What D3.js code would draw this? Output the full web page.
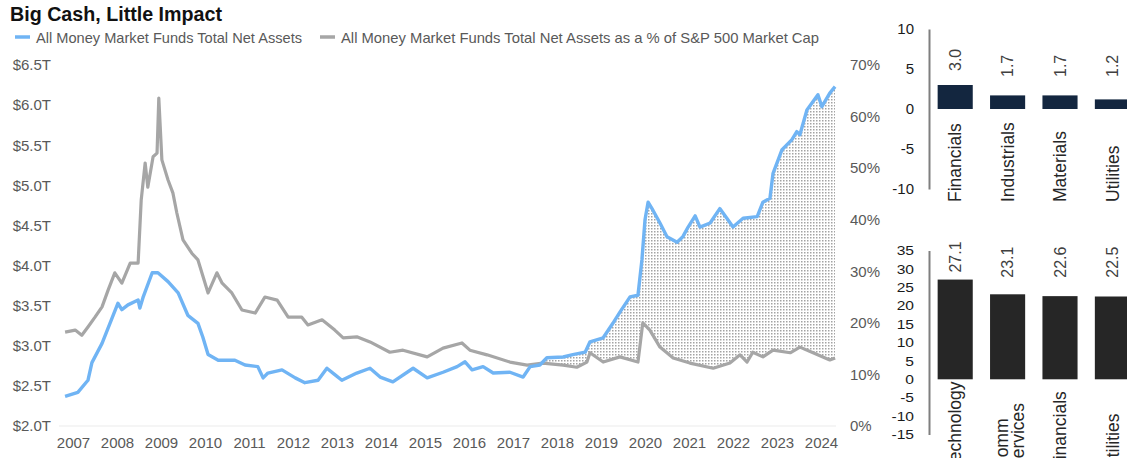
<!DOCTYPE html>
<html>
<head>
<meta charset="utf-8">
<script src="https://cdn.jsdelivr.net/npm/d3@7"></script>
<style>
body { margin: 0; background: #fff; }
svg text { font-family: "Liberation Sans", Arial, sans-serif; }
</style>
</head>
<body>
<div id="chart-area"></div>
<script>
// Serie azul: activos netos de fondos monetarios (billones $)
var blueYears = [2006.82, 2007.11, 2007.34, 2007.43, 2007.66, 2007.84, 2008.02, 2008.11, 2008.25, 2008.48,
    2008.52, 2008.59, 2008.80, 2008.93, 2009.16, 2009.39, 2009.61, 2009.84, 2009.95, 2010.07,
    2010.30, 2010.68, 2010.91, 2011.20, 2011.32, 2011.43, 2011.75, 2012.05, 2012.27, 2012.57,
    2012.77, 2012.95, 2013.11, 2013.45, 2013.75, 2013.98, 2014.27, 2014.73, 2015.05, 2015.41,
    2015.73, 2015.91, 2016.07, 2016.32, 2016.55, 2016.93, 2017.23, 2017.39, 2017.61, 2017.77,
    2018.14, 2018.36, 2018.64, 2018.75, 2019.05, 2019.27, 2019.43, 2019.66, 2019.84, 2019.93,
    2020.00, 2020.07, 2020.18, 2020.34, 2020.50, 2020.73, 2020.86, 2020.98, 2021.14, 2021.25,
    2021.48, 2021.70, 2021.86, 2022.00, 2022.23, 2022.55, 2022.68, 2022.84, 2022.91, 2023.11,
    2023.34, 2023.45, 2023.52, 2023.68, 2023.93, 2024.02, 2024.20, 2024.32];
var blueValues = [2.37, 2.42, 2.57, 2.79, 3.03, 3.28, 3.53, 3.45, 3.51, 3.57,
    3.47, 3.60, 3.91, 3.91, 3.80, 3.66, 3.38, 3.28, 3.11, 2.89,
    2.82, 2.82, 2.76, 2.74, 2.60, 2.66, 2.70, 2.60, 2.54, 2.57,
    2.72, 2.64, 2.57, 2.66, 2.72, 2.61, 2.55, 2.72, 2.60, 2.67,
    2.74, 2.80, 2.70, 2.74, 2.66, 2.67, 2.61, 2.74, 2.76, 2.85,
    2.86, 2.89, 2.92, 3.05, 3.10, 3.28, 3.42, 3.61, 3.63, 4.07,
    4.57, 4.79, 4.69, 4.53, 4.36, 4.29, 4.36, 4.48, 4.62, 4.48,
    4.53, 4.71, 4.59, 4.48, 4.59, 4.61, 4.79, 4.84, 5.15, 5.44,
    5.57, 5.67, 5.63, 5.94, 6.13, 5.98, 6.15, 6.23];

// Serie gris: % sobre la capitalizacion del S&P 500
var grayYears = [2006.82, 2007.05, 2007.20, 2007.34, 2007.50, 2007.66, 2007.80, 2007.95, 2008.11, 2008.30,
    2008.48, 2008.55, 2008.64, 2008.70, 2008.82, 2008.91, 2008.95, 2009.02, 2009.16, 2009.27,
    2009.36, 2009.50, 2009.70, 2009.84, 2010.07, 2010.27, 2010.39, 2010.61, 2010.84, 2011.14,
    2011.36, 2011.64, 2011.89, 2012.20, 2012.34, 2012.66, 2012.95, 2013.14, 2013.45, 2013.75,
    2014.20, 2014.50, 2015.05, 2015.41, 2015.84, 2016.02, 2016.41, 2016.93, 2017.32, 2017.68,
    2018.14, 2018.45, 2018.68, 2018.75, 2019.05, 2019.43, 2019.84, 2019.95, 2020.11, 2020.34,
    2020.64, 2021.02, 2021.55, 2021.93, 2022.16, 2022.32, 2022.45, 2022.68, 2022.91, 2023.30,
    2023.52, 2023.82, 2024.20, 2024.32];
var grayValues = [18.2, 18.6, 17.6, 19.2, 21.1, 23.1, 26.4, 29.7, 27.7, 31.6,
    31.6, 43.8, 51.0, 46.3, 52.2, 52.9, 63.6, 51.6, 47.7, 45.2,
    41.3, 36.1, 33.5, 32.2, 25.8, 29.7, 27.7, 25.8, 22.5, 21.9,
    25.0, 24.4, 21.1, 21.1, 19.6, 20.6, 18.6, 17.1, 17.3, 16.3,
    14.3, 14.7, 13.4, 15.1, 16.1, 14.7, 13.8, 12.4, 11.8, 12.2,
    11.8, 11.4, 12.4, 14.2, 12.4, 13.4, 12.4, 20.0, 18.6, 15.3,
    13.2, 12.2, 11.2, 12.2, 13.8, 12.4, 14.3, 13.4, 14.7, 14.2,
    15.3, 14.2, 12.8, 13.2];

// Ticks
var yearTicks = d3.range(2007, 2025);
var leftTicks = [2.0, 2.5, 3.0, 3.5, 4.0, 4.5, 5.0, 5.5, 6.0, 6.5];
var rightTicks = [0, 10, 20, 30, 40, 50, 60, 70];

// Barras de la derecha
var sectoresArriba = ["Financials", "Industrials", "Materials", "Utilities"];
var valoresArriba = [3.0, 1.7, 1.7, 1.2];
var ticksArriba = [10, 5, 0, -5, -10];
var sectoresAbajo = ["Technology", "Comm Services", "Financials", "Utilities"];
var valoresAbajo = [27.1, 23.1, 22.6, 22.5];
var ticksAbajo = [35, 30, 25, 20, 15, 10, 5, 0, -5, -10, -15];

var azul = "#70b4f4";
var gris = "#a6a6a6";

var blueData = blueYears.map(function(d, i){ return {x: d, y: blueValues[i]}; });
var grayData = grayYears.map(function(d, i){ return {x: d, y: grayValues[i]}; });

var svg = d3.select("#chart-area")
    .append("svg")
    .attr("width", 1127)
    .attr("height", 458);

// Escalas del grafico principal
var xScale = d3.scaleLinear().domain([2007, 2024]).range([73, 821]);
var yLeft = d3.scaleLinear().domain([2.0, 6.5]).range([426, 65]);
var yRight = d3.scaleLinear().domain([0, 70]).range([426, 65]);

// Titulo y leyenda
svg.append("text")
    .text("Big Cash, Little Impact")
    .attr("x", 10).attr("y", 21)
    .attr("font-size", "19.5px")
    .attr("font-weight", "bold")
    .attr("fill", "#111")
    .attr("textLength", 212)
    .attr("lengthAdjust", "spacingAndGlyphs");

var leyenda = [
    {label: "All Money Market Funds Total Net Assets", color: azul, x: 15, w: 266},
    {label: "All Money Market Funds Total Net Assets as a % of S&P 500 Market Cap", color: gris, x: 320, w: 478}
];
leyenda.forEach(function(d){
    svg.append("line")
        .attr("x1", d.x).attr("x2", d.x + 15)
        .attr("y1", 37).attr("y2", 37)
        .attr("stroke", d.color).attr("stroke-width", 3.5);
    svg.append("text")
        .text(d.label)
        .attr("x", d.x + 21).attr("y", 42.5)
        .attr("font-size", "14.5px")
        .attr("fill", "#595959")
        .attr("textLength", d.w)
        .attr("lengthAdjust", "spacingAndGlyphs");
});

// Linea base
svg.append("line")
    .attr("x1", 59).attr("x2", 836)
    .attr("y1", 426).attr("y2", 426)
    .attr("stroke", "#ebebeb").attr("stroke-width", 1);

// Patron de puntos y clip para el relleno entre lineas
var defs = svg.append("defs");
defs.append("pattern")
    .attr("id", "puntos")
    .attr("patternUnits", "userSpaceOnUse")
    .attr("width", 3).attr("height", 3)
  .append("rect")
    .attr("width", 1.5).attr("height", 1.5)
    .attr("fill", "#a3a3a3");

var areaSobreGris = d3.area()
    .x(function(d){ return xScale(d.x); })
    .y0(0)
    .y1(function(d){ return yRight(d.y); });
defs.append("clipPath")
    .attr("id", "clipGris")
  .append("path")
    .attr("d", areaSobreGris(grayData));

var areaBajoAzul = d3.area()
    .x(function(d){ return xScale(d.x); })
    .y0(426)
    .y1(function(d){ return yLeft(d.y); });
svg.append("path")
    .attr("d", areaBajoAzul(blueData))
    .attr("fill", "url(#puntos)")
    .attr("clip-path", "url(#clipGris)");

// Lineas
var lineaGris = d3.line()
    .x(function(d){ return xScale(d.x); })
    .y(function(d){ return yRight(d.y); });
var lineaAzul = d3.line()
    .x(function(d){ return xScale(d.x); })
    .y(function(d){ return yLeft(d.y); });

svg.append("path")
    .attr("d", lineaGris(grayData))
    .attr("fill", "none")
    .attr("stroke", gris)
    .attr("stroke-width", 3.2)
    .attr("stroke-linejoin", "round");
svg.append("path")
    .attr("d", lineaAzul(blueData))
    .attr("fill", "none")
    .attr("stroke", azul)
    .attr("stroke-width", 3.4)
    .attr("stroke-linejoin", "round");

// Ejes
function estiloEje(g, size, color){
    g.select(".domain").remove();
    g.attr("font-family", null).attr("font-size", size);
    g.selectAll("text").attr("fill", color);
}

svg.append("g")
    .attr("transform", "translate(59,0)")
    .call(d3.axisLeft(yLeft).tickValues(leftTicks).tickSize(0).tickPadding(8)
        .tickFormat(function(d){ return "$" + d.toFixed(1) + "T"; }))
    .call(estiloEje, "15px", "#595959");

svg.append("g")
    .attr("transform", "translate(842,0)")
    .call(d3.axisRight(yRight).tickValues(rightTicks).tickSize(0).tickPadding(8)
        .tickFormat(function(d){ return d + "%"; }))
    .call(estiloEje, "15px", "#595959");

svg.append("g")
    .attr("transform", "translate(0,426)")
    .call(d3.axisBottom(xScale).tickValues(yearTicks).tickSize(0).tickPadding(11)
        .tickFormat(function(d){ return String(d); }))
    .call(estiloEje, "15px", "#595959");

// ---- Graficos de barras ----
function barras(cfg){
    var x = d3.scaleBand()
        .domain(cfg.sectores)
        .range([929, 1138.6])
        .paddingInner(0.33)
        .paddingOuter(0.165);
    var y = d3.scaleLinear().domain(cfg.dominio).range(cfg.rango);

    var eje = svg.append("g")
        .attr("transform", "translate(929,0)")
        .call(d3.axisLeft(y).tickValues(cfg.ticks).tickSize(0).tickSizeOuter(0).tickPadding(cfg.padding)
            .tickFormat(function(d){ return String(d); }));  // guion normal, no el signo menos de d3
    eje.attr("font-family", null).attr("font-size", cfg.fontTicks);
    eje.select(".domain").attr("stroke", "#7f7f7f").attr("stroke-width", 2);
    eje.selectAll("text").attr("fill", "#1a1a1a");
    if (cfg.escala) {
        eje.selectAll("text")
            .attr("x", -cfg.padding / cfg.escala)
            .attr("transform", "scale(" + cfg.escala + ",1)");
    }

    var datos = cfg.sectores.map(function(d, i){ return {s: d, v: cfg.valores[i]}; });

    svg.selectAll(".bar-" + cfg.id)
        .data(datos)
        .enter()
        .append("rect")
        .attr("class", "bar-" + cfg.id)
        .attr("x", function(d){ return x(d.s); })
        .attr("y", function(d){ return y(Math.max(0, d.v)); })
        .attr("width", x.bandwidth())
        .attr("height", function(d){ return Math.abs(y(d.v) - y(0)); })
        .attr("fill", cfg.color);

    // Cifras
    svg.selectAll(".cifra-" + cfg.id)
        .data(datos)
        .enter()
        .append("text")
        .attr("class", "cifra-" + cfg.id)
        .text(function(d){ return d.v.toFixed(1); })
        .attr("transform", function(d){
            var yy = Math.min(y(d.v) - cfg.gap, y(cfg.tope));
            return "translate(" + (x(d.s) + x.bandwidth() / 2) + "," + yy + ") rotate(-90)";
        })
        .attr("dy", "0.35em")
        .attr("font-size", "16px")
        .attr("fill", "#404040");

    // Categorias (texto girado; en el de abajo queda cortado por el borde, como en el original)
    var cat = svg.selectAll(".cat-" + cfg.id)
        .data(datos)
        .enter()
        .append("text")
        .attr("class", "cat-" + cfg.id)
        .attr("transform", function(d){
            return "translate(" + (x(d.s) + x.bandwidth() / 2) + "," + cfg.yCat + ") rotate(-90)";
        })
        .attr("font-size", "17.5px")
        .attr("fill", "#262626");
    cat.each(function(d){
        var lineas = d.s.split(" ");
        var t = d3.select(this);
        lineas.forEach(function(l, i){
            t.append("tspan")
                .attr("x", 0)
                .attr("y", (i - (lineas.length - 1) / 2) * 16 + (lineas.length > 1 ? 2 : 0))
                .attr("dy", "0.35em")
                .text(l);
        });
    });
}

barras({id: "a", sectores: sectoresArriba, valores: valoresArriba, ticks: ticksArriba,
    dominio: [-10, 10], rango: [189, 29], color: "#13263f", gap: 14, tope: 4.0,
    yCat: 202, padding: 15, fontTicks: "15px"});
barras({id: "b", sectores: sectoresAbajo, valores: valoresAbajo, ticks: ticksAbajo,
    dominio: [-15, 35], rango: [434.5, 250.5], color: "#262626", gap: 7, tope: 27.6,
    yCat: 470, padding: 15, fontTicks: "13px", escala: 1.2});
</script>
</body>
</html>
